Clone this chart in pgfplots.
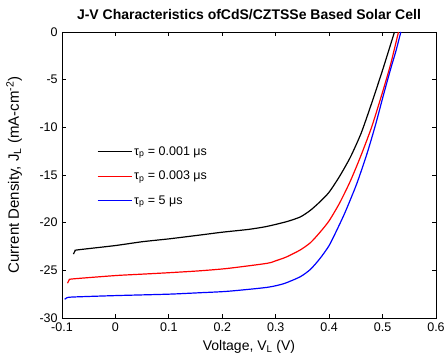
\documentclass[border=0pt]{standalone}
\usepackage{fontspec}
\setmainfont{Liberation Sans}
\usepackage{pgfplots}
\pgfplotsset{compat=1.18}
\begin{document}
\fontsize{12.5}{15}\selectfont
\begin{tikzpicture}
\useasboundingbox (-62pt,-43pt) rectangle (383pt,318pt);
\begin{axis}[
  at={(0,0)}, anchor=south west,
  scale only axis, width=374pt, height=286pt,
  xmin=-0.1, xmax=0.6, ymin=-30, ymax=0,
  xtick={-0.1,0,0.1,0.2,0.3,0.4,0.5,0.6},
  ytick={-30,-25,-20,-15,-10,-5,0},
  xticklabels={-0.1,0,0.1,0.2,0.3,0.4,0.5,0.6},
  tick align=inside, major tick length=4pt,
  tick style={black, line width=0.8pt},
  axis line style={line width=0.9pt},
  /pgf/number format/assume math mode=true,
  tick label style={font=\fontsize{12.5}{15}\selectfont},
  title style={font=\fontsize{14}{16}\selectfont\bfseries, at={(axis description cs:0.5,1)}, anchor=south, yshift=2pt},
  title={J-V Characteristics ofCdS/CZTSSe Based Solar Cell},
  xlabel={Voltage, V\textsubscript{L} (V)},
  ylabel={Current Density, J\textsubscript{L} (mA-cm\textsuperscript{-2})},
  xlabel style={font=\fontsize{14}{16}\selectfont, at={(axis description cs:0.5,-0.101)}, anchor=center},
  ylabel style={font=\fontsize{15}{17}\selectfont, at={(axis description cs:-0.128,0.5)}, anchor=center},
  clip=true,
  legend style={draw=none, fill=none, at={(0.085,0.615)}, anchor=north west,
    font=\fontsize{12.5}{15}\selectfont, row sep=10pt},
  legend cell align=left,
  legend image code/.code={\draw[#1, line width=1.2pt] (0pt,0pt) -- (34pt,0pt);},
]
\addplot[black, line width=1.2pt, smooth, tension=0.4] coordinates {
(-0.0785,-23.3) (-0.0755,-22.95) (-0.07,-22.85) (0.0,-22.4) (0.05,-22.0) (0.1,-21.7)
(0.158,-21.3) (0.2,-21.0) (0.25,-20.7) (0.283,-20.4) (0.32,-19.9) (0.346,-19.4)
(0.365,-18.7) (0.383,-17.8) (0.40,-16.8) (0.42,-15.1) (0.44,-13.1) (0.46,-10.6)
(0.48,-7.4) (0.50,-4.0) (0.5223,0)
};
\addlegendentry{τ\textsubscript{p} = 0.001 μs}
\addplot[red, line width=1.2pt, smooth, tension=0.4] coordinates {
(-0.0895,-26.35) (-0.0865,-26.0) (-0.08,-25.9) (0.0,-25.55) (0.05,-25.4) (0.1,-25.25)
(0.158,-25.05) (0.21,-24.8) (0.2833,-24.27) (0.30,-24.0) (0.32,-23.6) (0.3457,-22.87) (0.365,-22.1)
(0.383,-21.0) (0.40,-19.8) (0.42,-17.9) (0.44,-15.6) (0.46,-12.9) (0.48,-9.9)
(0.50,-6.3) (0.515,-3.4) (0.5298,0)
};
\addlegendentry{τ\textsubscript{p} = 0.003 μs}
\addplot[blue, line width=1.2pt, smooth, tension=0.4] coordinates {
(-0.095,-28.05) (-0.091,-27.88) (-0.08,-27.8) (0.0,-27.65) (0.1,-27.5) (0.158,-27.35)
(0.21,-27.2) (0.2833,-26.79) (0.315,-26.4) (0.3457,-25.68) (0.365,-24.9) (0.383,-23.75)
(0.40,-22.4) (0.4144,-20.78) (0.43,-18.9) (0.4518,-15.9) (0.4712,-12.7) (0.487,-9.7)
(0.5017,-6.6) (0.515,-3.9) (0.525,-2.0) (0.5342,0)
};
\addlegendentry{τ\textsubscript{p} = 5 μs}
\end{axis}
\end{tikzpicture}
\end{document}
